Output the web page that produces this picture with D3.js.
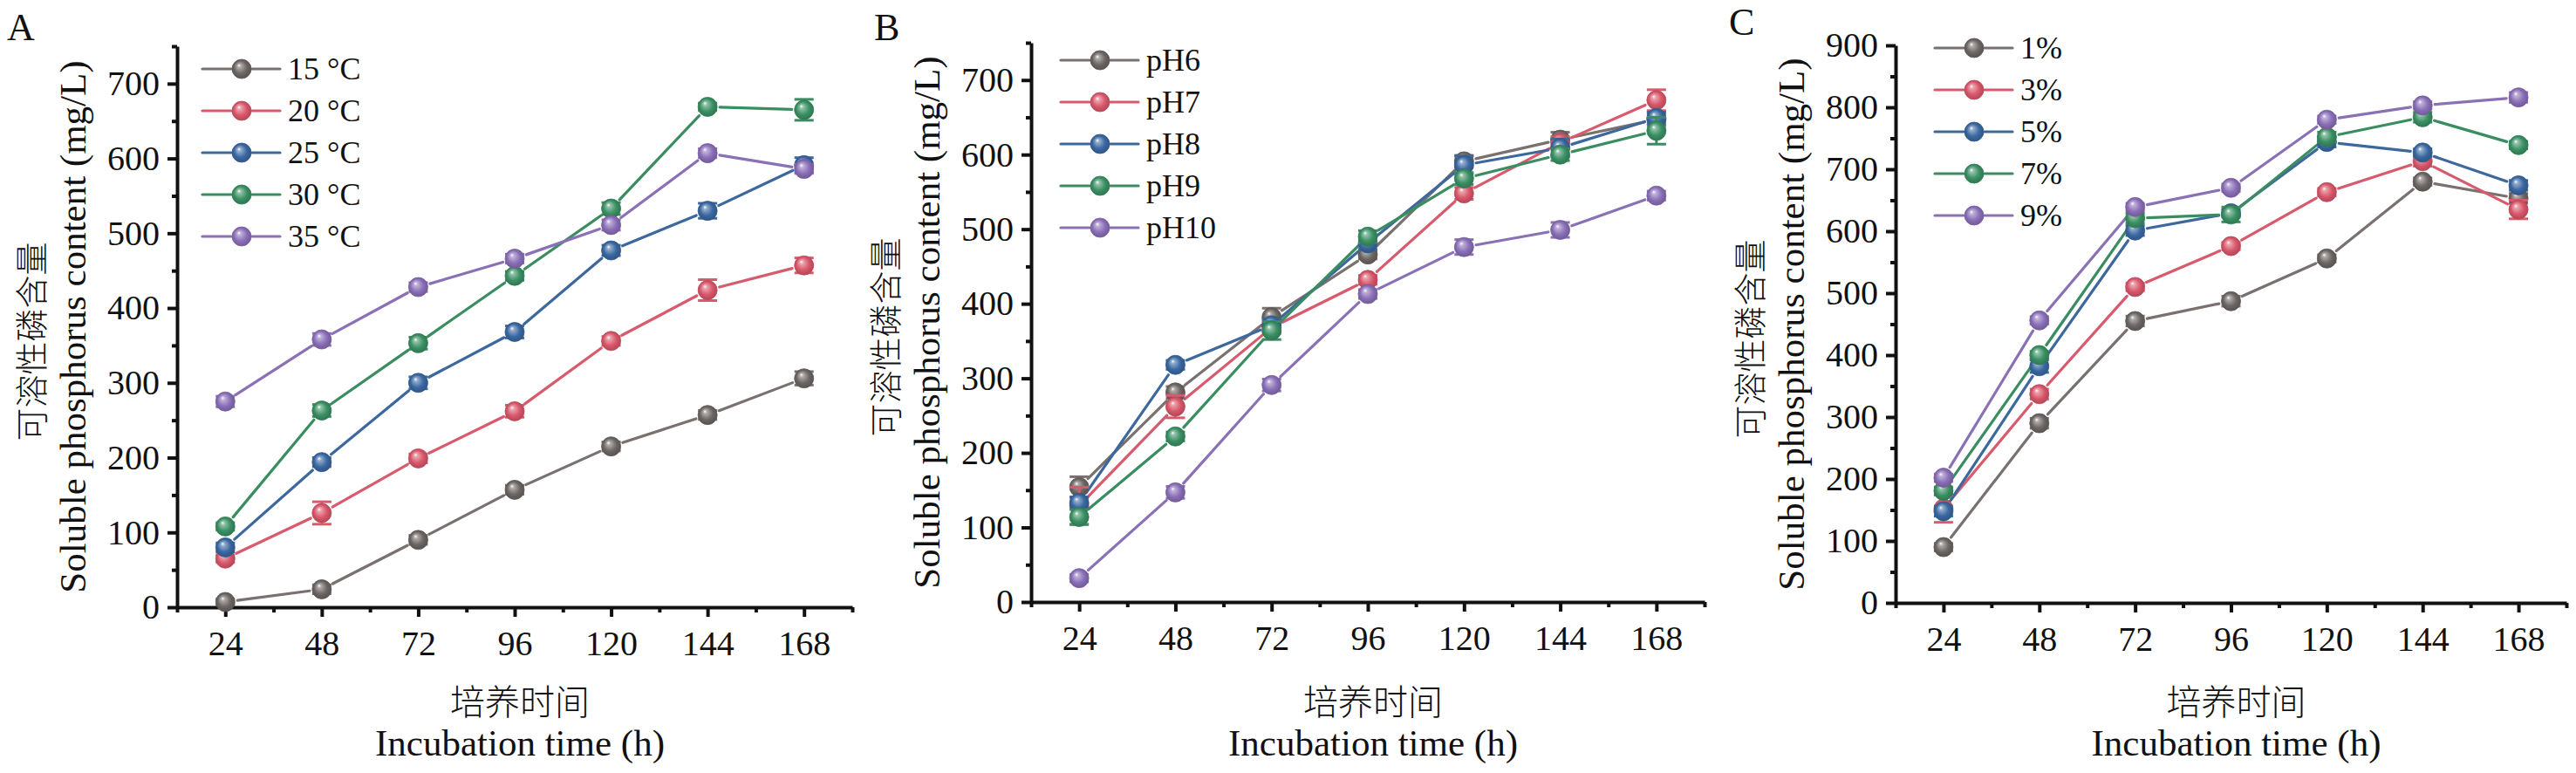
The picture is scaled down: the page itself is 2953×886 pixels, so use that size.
<!DOCTYPE html>
<html>
<head>
<meta charset="utf-8">
<script src="https://cdn.jsdelivr.net/npm/d3@7"></script>
<style>
  body { margin: 0; background: #fff; }
  text { fill: #111; }
</style>
</head>
<body>
<svg id="chart" width="2953" height="886"></svg>
<script>
// incubation hours shared by the three panels
var hours = [24, 48, 72, 96, 120, 144, 168];
var minorHours = [12, 36, 60, 84, 108, 132, 156, 180];

// panel A: temperature
var tempLabels = ['15 °C', '20 °C', '25 °C', '30 °C', '35 °C'];
var tempValues = [
    [7, 24, 90, 157, 215, 257, 306],
    [65, 126, 199, 262, 356, 424, 457],
    [80, 194, 300, 368, 477, 530, 591],
    [108, 263, 353, 443, 533, 669, 665],
    [275, 358, 428, 466, 511, 607, 586]
];
var tempErrors = [
    [4, 6, 6, 6, 6, 6, 9],
    [5, 15, 6, 8, 6, 14, 10],
    [6, 6, 8, 8, 7, 10, 10],
    [5, 8, 8, 6, 8, 5, 14],
    [7, 8, 6, 6, 7, 6, 6]
];

// panel B: pH
var phLabels = ['pH6', 'pH7', 'pH8', 'pH9', 'pH10'];
var phValues = [
    [154, 281, 382, 466, 591, 620, 647],
    [129, 262, 368, 432, 548, 616, 673],
    [133, 318, 371, 481, 586, 609, 649],
    [114, 222, 364, 490, 568, 600, 632],
    [32, 147, 291, 413, 476, 499, 545]
];
var phErrors = [
    [14, 8, 12, 6, 8, 10, 8],
    [25, 15, 8, 6, 8, 8, 14],
    [8, 6, 8, 8, 12, 12, 8],
    [10, 6, 12, 8, 8, 8, 18],
    [5, 8, 8, 6, 10, 10, 6]
];

// panel C: inoculum
var inocLabels = ['1%', '3%', '5%', '7%', '9%'];
var inocValues = [
    [90, 290, 455, 487, 556, 680, 653],
    [152, 337, 510, 576, 663, 713, 635],
    [148, 382, 601, 629, 744, 727, 674],
    [181, 400, 621, 627, 752, 784, 739],
    [202, 456, 639, 670, 780, 803, 816]
];
var inocErrors = [
    [6, 8, 8, 8, 6, 6, 8],
    [22, 8, 6, 6, 6, 8, 15],
    [8, 10, 8, 6, 8, 6, 8],
    [6, 6, 8, 12, 8, 8, 6],
    [6, 6, 6, 6, 6, 6, 8]
];

var lineColors = ['#78716f', '#d85a6d', '#3d689e', '#3a8c61', '#8a71b6'];
var ballColors = ['#6c6664', '#d9576a', '#3a68a2', '#3b9064', '#8a6fb8'];

var serif = '"Liberation Serif", "Times New Roman", serif',
    cjk = '"Noto Sans CJK SC", sans-serif',
    r = 11;

var panels = [
    { letter: 'A', labels: tempLabels, values: tempValues, errors: tempErrors, yMax: 750,
      left: 203, right: 977, top: 53, bottom: 696, legendX: 232, legendY: 79, letterX: 8, letterY: 46 },
    { letter: 'B', labels: phLabels, values: phValues, errors: phErrors, yMax: 750,
      left: 1182, right: 1954, top: 49, bottom: 690, legendX: 1216, legendY: 69, letterX: 1002, letterY: 46 },
    { letter: 'C', labels: inocLabels, values: inocValues, errors: inocErrors, yMax: 900,
      left: 2173, right: 2942, top: 52, bottom: 691, legendX: 2218, legendY: 55, letterX: 1982, letterY: 40 }
];

var svg = d3.select('#chart');
svg.append('rect').attr('width', 2953).attr('height', 886).attr('fill', '#fff');

var defs = svg.append('defs');
ballColors.forEach(function (c, i) {
    var g = defs.append('radialGradient').attr('id', 'ball' + i)
        .attr('cx', '50%').attr('cy', '50%').attr('r', '55%')
        .attr('fx', '35%').attr('fy', '30%');
    g.append('stop').attr('offset', '0%').attr('stop-color', '#ffffff');
    g.append('stop').attr('offset', '18%').attr('stop-color', d3.interpolateRgb(c, '#fff')(0.45));
    g.append('stop').attr('offset', '60%').attr('stop-color', c);
    g.append('stop').attr('offset', '100%').attr('stop-color', d3.color(c).darker(0.7));
});

function ball(sel, cx, cy, i) {
    sel.append('circle')
        .attr('cx', cx).attr('cy', cy).attr('r', r)
        .attr('fill', 'url(#ball' + i + ')')
        .attr('stroke', d3.color(ballColors[i]).darker(0.4))
        .attr('stroke-width', 0.8);
}

panels.forEach(function (p) {
    var x = d3.scaleLinear().domain([12, 180]).range([p.left, p.right]),
        y = d3.scaleLinear().domain([0, p.yMax]).range([p.bottom, p.top]),
        g = svg.append('g'),
        yMajor = d3.range(0, p.yMax + 1, 100),
        yMinor = d3.range(50, p.yMax + 1, 100);

    // axes: major ticks with labels, minor ticks without
    g.append('g').attr('transform', 'translate(0,' + p.bottom + ')')
        .call(d3.axisBottom(x).tickValues(hours).tickSize(11).tickSizeOuter(0).tickPadding(16));
    g.append('g').attr('transform', 'translate(0,' + p.bottom + ')')
        .call(d3.axisBottom(x).tickValues(minorHours).tickSize(6).tickSizeOuter(0).tickFormat(''))
        .select('.domain').remove();
    g.append('g').attr('transform', 'translate(' + p.left + ',0)')
        .call(d3.axisLeft(y).tickValues(yMajor).tickSize(11).tickSizeOuter(0).tickPadding(9));
    g.append('g').attr('transform', 'translate(' + p.left + ',0)')
        .call(d3.axisLeft(y).tickValues(yMinor).tickSize(6).tickSizeOuter(0).tickFormat(''))
        .select('.domain').remove();

    g.selectAll('.domain').attr('stroke', '#111').attr('stroke-width', 4);
    g.selectAll('.tick line').attr('stroke', '#111').attr('stroke-width', 4);
    g.selectAll('.tick text').attr('font-family', serif).attr('font-size', 40).attr('fill', '#111');

    // titles
    var xc = (p.left + p.right) / 2,
        yc = (p.top + p.bottom) / 2;
    g.append('text').attr('x', xc + 6).attr('y', 802).attr('text-anchor', 'middle')
        .attr('dominant-baseline', 'central')
        .attr('font-family', cjk).attr('font-weight', 300).attr('font-size', 40).text('培养时间');
    g.append('text').attr('x', xc + 6).attr('y', 866).attr('text-anchor', 'middle')
        .attr('font-family', serif).attr('font-size', 43).text('Incubation time (h)');
    g.append('text').attr('transform', 'translate(' + (p.left - 120) + ',' + yc + ') rotate(-90)')
        .attr('text-anchor', 'middle').attr('dominant-baseline', 'central')
        .attr('font-family', serif).attr('font-size', 43).text('Soluble phosphorus content (mg/L)');
    g.append('text').attr('transform', 'translate(' + (p.left - 170) + ',' + (yc + 17) + ') rotate(-90)')
        .attr('text-anchor', 'middle').attr('dominant-baseline', 'central')
        .attr('font-family', cjk).attr('font-weight', 300).attr('font-size', 38).text('可溶性磷含量');
    g.append('text').attr('x', p.letterX).attr('y', p.letterY)
        .attr('font-family', serif).attr('font-size', 44).text(p.letter);

    // lines with a small gap at each marker
    p.values.forEach(function (vals, i) {
        var pts = vals.map(function (v, k) { return [x(hours[k]), y(v)]; }),
            segs = d3.pairs(pts).map(function (pr) {
                var dx = pr[1][0] - pr[0][0], dy = pr[1][1] - pr[0][1],
                    len = Math.sqrt(dx * dx + dy * dy), gap = r + 3;
                return [[pr[0][0] + dx * gap / len, pr[0][1] + dy * gap / len],
                        [pr[1][0] - dx * gap / len, pr[1][1] - dy * gap / len]];
            });
        g.append('g').selectAll('line').data(segs).join('line')
            .attr('x1', function (s) { return s[0][0]; }).attr('y1', function (s) { return s[0][1]; })
            .attr('x2', function (s) { return s[1][0]; }).attr('y2', function (s) { return s[1][1]; })
            .attr('stroke', lineColors[i]).attr('stroke-width', 3.2).attr('stroke-linecap', 'round');
    });

    // error bars and markers
    p.values.forEach(function (vals, i) {
        var eg = g.append('g').attr('stroke', lineColors[i]).attr('stroke-width', 3);
        vals.forEach(function (v, k) {
            var cx = x(hours[k]), e = p.errors[i][k];
            eg.append('line').attr('x1', cx).attr('x2', cx).attr('y1', y(v - e)).attr('y2', y(v + e));
            [v - e, v + e].forEach(function (yy) {
                eg.append('line').attr('x1', cx - 11).attr('x2', cx + 11).attr('y1', y(yy)).attr('y2', y(yy));
            });
        });
        vals.forEach(function (v, k) { ball(g, x(hours[k]), y(v), i); });
    });

    // legend
    p.labels.forEach(function (lab, i) {
        var ly = p.legendY + i * 48, lx = p.legendX;
        g.append('line').attr('x1', lx).attr('x2', lx + 33).attr('y1', ly).attr('y2', ly)
            .attr('stroke', lineColors[i]).attr('stroke-width', 3.2).attr('stroke-linecap', 'round');
        g.append('line').attr('x1', lx + 57).attr('x2', lx + 89).attr('y1', ly).attr('y2', ly)
            .attr('stroke', lineColors[i]).attr('stroke-width', 3.2).attr('stroke-linecap', 'round');
        ball(g, lx + 45, ly, i);
        g.append('text').attr('x', lx + 98).attr('y', ly).attr('dominant-baseline', 'central')
            .attr('font-family', serif).attr('font-size', 36).text(lab);
    });
});
</script>
</body>
</html>
